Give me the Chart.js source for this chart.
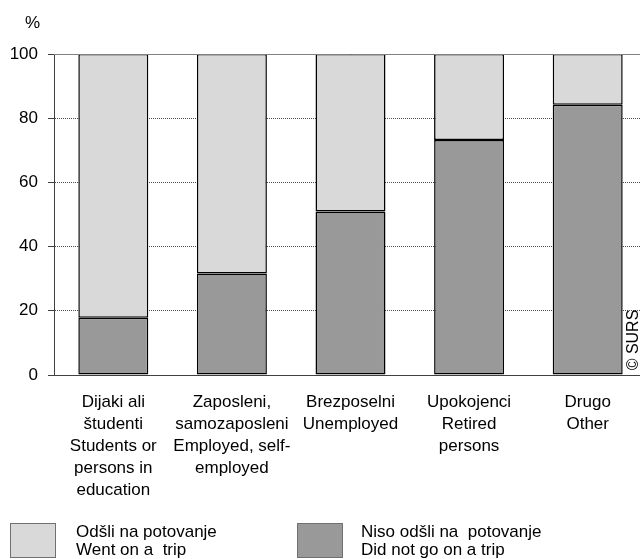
<!DOCTYPE html>
<html>
<head>
<meta charset="utf-8">
<script src="https://cdn.jsdelivr.net/npm/chart.js@4"></script>
<style>
    html, body { margin: 0; padding: 0; background: #fff; overflow: hidden; }
    #wrap { position: relative; width: 640px; height: 559px; overflow: hidden; }
</style>
</head>
<body>
<div id="wrap"><canvas id="chart" width="660" height="559"></canvas></div>
<script>
// data
var categories = [
    ["Dijaki ali", "študenti", "Students or", "persons in", "education"],
    ["Zaposleni,", "samozaposleni", "Employed, self-", "employed"],
    ["Brezposelni", "Unemployed"],
    ["Upokojenci", "Retired", "persons"],
    ["Drugo", "Other"]
];
var didNotGo = [17.8, 31.6, 50.9, 73.2, 84.2];
var wentOnTrip = [82.2, 68.4, 49.1, 26.8, 15.8];
var seriesNames = [
    ["Odšli na potovanje", "Went on a  trip"],
    ["Niso odšli na  potovanje", "Did not go on a trip"]
];
var yTicks = [0, 20, 40, 60, 80, 100];

(function () {
    var fontFamily = "'Liberation Sans', Arial, sans-serif";
    var lightGrey = "#d9d9d9",
        darkGrey = "#999999";

    // top frame line, percent sign, legend and copyright drawn on the canvas
    var extras = {
        id: "extras",
        afterDraw: function (chart) {
            var ctx = chart.ctx,
                area = chart.chartArea;
            ctx.save();
            ctx.strokeStyle = "#808080";
            ctx.lineWidth = 1;
            ctx.beginPath();
            ctx.moveTo(area.left, area.top + 0.5);
            ctx.lineTo(area.right, area.top + 0.5);
            ctx.stroke();

            ctx.fillStyle = "#000";
            ctx.font = "17px " + fontFamily;
            ctx.textBaseline = "middle";
            ctx.textAlign = "left";
            ctx.fillText("%", 25, 23);

            // legend
            var items = [
                { x: 10, tx: 76, color: lightGrey, text: seriesNames[0] },
                { x: 297, tx: 361, color: darkGrey, text: seriesNames[1] }
            ];
            items.forEach(function (it) {
                ctx.fillStyle = it.color;
                ctx.fillRect(it.x, 523, 45, 34);
                ctx.strokeStyle = "#707070";
                ctx.strokeRect(it.x + 0.5, 523.5, 45, 34);
                ctx.fillStyle = "#000";
                ctx.fillText(it.text[0], it.tx, 532);
                ctx.fillText(it.text[1], it.tx, 550);
            });

            // copyright, rotated
            ctx.translate(634, 340);
            ctx.rotate(-Math.PI / 2);
            ctx.textAlign = "center";
            ctx.font = "16px " + fontFamily;
            ctx.fillText("© SURS", 0, 0);
            ctx.restore();
        }
    };

    new Chart(document.getElementById("chart").getContext("2d"), {
        type: "bar",
        data: {
            labels: categories,
            datasets: [
                {
                    label: seriesNames[1].join(" "),
                    data: didNotGo,
                    backgroundColor: darkGrey,
                    borderColor: "#000",
                    borderWidth: 1.5,
                    borderSkipped: false
                },
                {
                    label: seriesNames[0].join(" "),
                    data: wentOnTrip,
                    backgroundColor: lightGrey,
                    borderColor: "#000",
                    borderWidth: 1.5,
                    borderSkipped: false
                }
            ]
        },
        options: {
            responsive: false,
            animation: false,
            devicePixelRatio: 1,
            layout: { padding: { top: 54, right: 13, left: 0, bottom: 0 } },
            plugins: {
                legend: { display: false },
                tooltip: { enabled: false }
            },
            datasets: {
                bar: { categoryPercentage: 1, barPercentage: 0.59 }
            },
            scales: {
                x: {
                    stacked: true,
                    grid: { display: false },
                    border: { display: true, color: "#404040", width: 1 },
                    ticks: {
                        color: "#000",
                        padding: 8,
                        maxRotation: 0,
                        autoSkip: false,
                        font: { family: fontFamily, size: 17, lineHeight: "22px" }
                    },
                    afterFit: function (scale) { scale.height = 184; }
                },
                y: {
                    stacked: true,
                    min: 0,
                    max: 100,
                    afterBuildTicks: function (scale) {
                        scale.ticks = yTicks.map(function (v) { return { value: v }; });
                    },
                    grid: {
                        color: function (c) {
                            var v = c.tick ? c.tick.value : 0;
                            return (v === 0 || v === 100) ? "rgba(0,0,0,0)" : "#505050";
                        },
                        tickColor: "#404040",
                        tickLength: 6,
                        lineWidth: 1
                    },
                    border: { display: true, color: "#404040", width: 1, dash: [1, 1] },
                    ticks: {
                        color: "#000",
                        padding: 10,
                        font: { family: fontFamily, size: 17 }
                    },
                    afterFit: function (scale) { scale.width = 54; }
                }
            }
        },
        plugins: [extras]
    });
})();
</script>
</body>
</html>
